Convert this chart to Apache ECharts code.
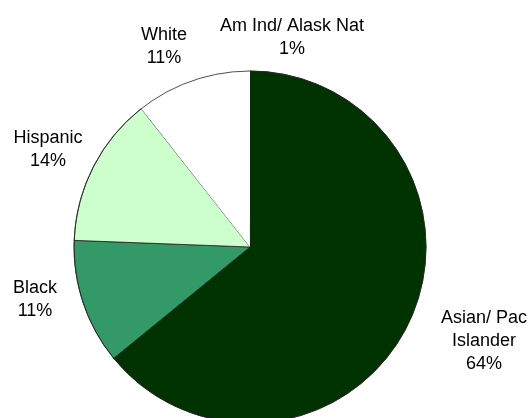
<!DOCTYPE html>
<html>
<head>
<meta charset="utf-8">
<script src="https://cdn.jsdelivr.net/npm/echarts@6/dist/echarts.min.js"></script>
<style>
  html, body { margin: 0; padding: 0; background: #fff; }
  #chart { width: 531px; height: 418px; }
</style>
</head>
<body>
<div id="chart"></div>
<script>
// slices, clockwise from 12 o'clock
const groups = ['Asian/ Pac\nIslander', 'Black', 'Hispanic', 'White', 'Am Ind/ Alask Nat'];
const shares = [64.1, 11.5, 13.8, 10.1, 0.5];
const pctLabels = ['64%', '11%', '14%', '11%', '1%'];

const colors = ['#003300', '#339966', '#CCFFCC', '#FFFFFF', '#FFFFFF'];
// label block centres (px)
const labelSpots = [[484, 341], [35, 300], [48, 150], [164, 47], [292, 38]];

const chart = echarts.init(document.getElementById('chart'));

chart.setOption({
    animation: false,
    series: [{
        type: 'pie',
        center: [250, 247],
        radius: 176,
        startAngle: 90,
        clockwise: true,
        avoidLabelOverlap: false,
        itemStyle: {
            borderColor: '#222',
            borderWidth: 0.8
        },
        label: {
            show: true,
            position: 'outside',
            color: '#000',
            fontFamily: 'Liberation Sans, Arial, sans-serif',
            fontSize: 18,
            lineHeight: 23,
            align: 'center',
            formatter: p => p.name + '\n' + pctLabels[p.dataIndex]
        },
        labelLine: { show: false },
        labelLayout: p => ({
            x: labelSpots[p.dataIndex][0],
            y: labelSpots[p.dataIndex][1],
            align: 'center',
            verticalAlign: 'middle'
        }),
        emphasis: { disabled: true },
        data: groups.map((g, i) => ({
            name: g,
            value: shares[i],
            // the white slices share one outline, drawn by the ring below
            itemStyle: i >= 3 ? { color: colors[i], borderWidth: 0 } : { color: colors[i] }
        }))
    }, {
        // outer outline of the whole pie
        type: 'pie',
        silent: true,
        center: [250, 247],
        radius: 176,
        label: { show: false },
        labelLine: { show: false },
        itemStyle: { color: 'rgba(0,0,0,0)', borderColor: '#222', borderWidth: 0.8 },
        data: [{ name: 'outline', value: 1 }]
    }]
});
</script>
</body>
</html>
